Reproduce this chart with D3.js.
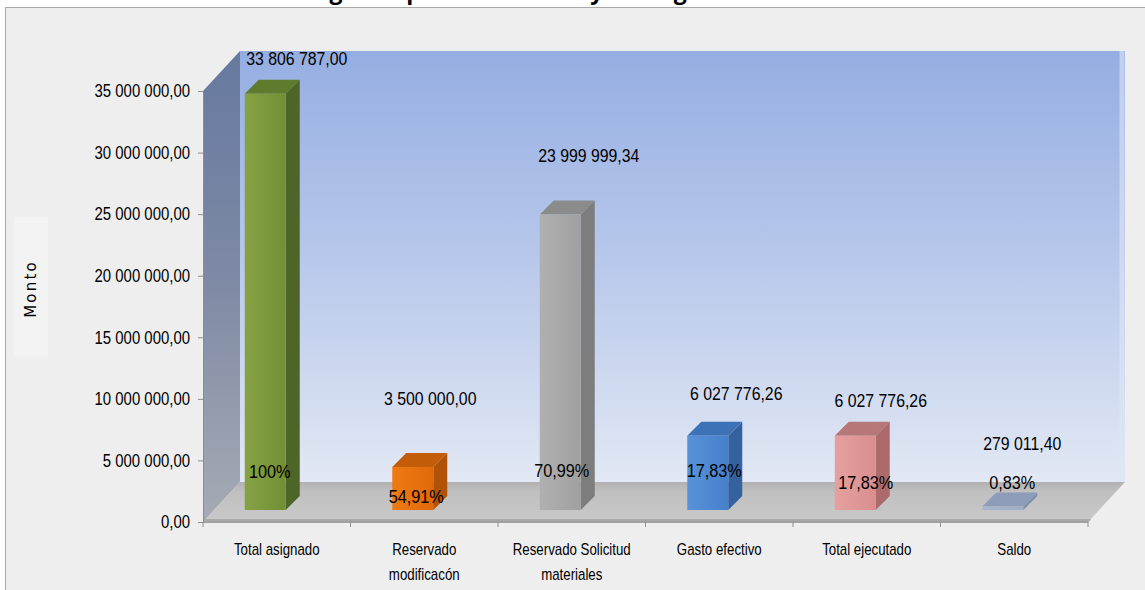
<!DOCTYPE html>
<html><head><meta charset="utf-8">
<script src="https://cdn.jsdelivr.net/npm/d3@7"></script>
<style>html,body{margin:0;padding:0;background:#fff;} svg{display:block}</style>
</head><body><svg id="c" width="1145" height="590"></svg>
<script>
// ---------- data ----------
const categories = ["Total asignado","Reservado modificacón","Reservado Solicitud materiales","Gasto efectivo","Total ejecutado","Saldo"];
const categoryLines = [["Total asignado"],["Reservado","modificacón"],["Reservado Solicitud","materiales"],["Gasto efectivo"],["Total ejecutado"],["Saldo"]];
const values = [33806787.00, 3500000.00, 23999999.34, 6027776.26, 6027776.26, 279011.40];
const percentLabels = ["100%","54,91%","70,99%","17,83%","17,83%","0,83%"];
const yTickValues = [0,5000000,10000000,15000000,20000000,25000000,30000000,35000000];
const yMax = 35000000;
const axisTitle = "Monto";
const chartTitle = "Monto asignado por Actividades y Total gastado";

// ---------- layout / style (not data) ----------
const W = 1145, H = 590;
const P = {x0:203, x1:1088, yBase:522, yTop:91, dX:37, dY:-40};
const barOff = {dx:-32, w:41, sx:14, sy:-14, lift:12};
const valLab = [{dx:20,y:65},{dx:6,y:405},{dx:17,y:162},{dx:17,y:400},{dx:14,y:407},{dx:8,y:450}];
const pctLab = [{dx:-7,y:478},{dx:-8,y:503},{dx:-10,y:477},{dx:-5,y:477},{dx:-1,y:489},{dx:-2,y:489}];
const barColors = [
  {front:["#86a244","#738f35"], side:"#4d6526", top:"#5e7b2e"},
  {front:["#ee7a14","#e06a08"], side:"#b05207", top:"#c25c08"},
  {front:["#b0b0b0","#a0a0a0"], side:"#7d7d7d", top:"#8b8b8b"},
  {front:["#5892d8","#4680cc"], side:"#34629f", top:"#3e72b6"},
  {front:["#e6a0a0","#d98e8e"], side:"#ad6a6a", top:"#b57777"},
  {front:["#a9b7cc","#a0aec4"], side:"#7f8ea8", top:"#8d9db8"}
];
const numFont = "'Liberation Sans',Arial,sans-serif";
const catFont = "'Liberation Sans',Arial,sans-serif";

const svg = d3.select("#c");
const defs = svg.append("defs");
function lg(id, stops, x1,y1,x2,y2){
  const g = defs.append("linearGradient").attr("id",id)
    .attr("x1",x1).attr("y1",y1).attr("x2",x2).attr("y2",y2);
  stops.forEach(s=>g.append("stop").attr("offset",s[0]).attr("stop-color",s[1]));
}
lg("gBack",[[0,"#95aee2"],[0.45,"#b5c6ea"],[1,"#e2e8f4"]],0,0,0,1);
lg("gLeft",[[0,"#66799f"],[0.5,"#7f8aa5"],[1,"#a6abb4"]],0,0,0,1);
lg("gFloor",[[0,"#b2b2b2"],[0.25,"#c0c0c0"],[1,"#c9c9c9"]],0,0,0,1);
barColors.forEach((c,i)=>lg("gBar"+i,[[0,c.front[0]],[1,c.front[1]]],0,0,1,0));

// condensed text helper
function ctext(parent, x0, y0, txt, size, sx, anchor, font){
  return parent.append("text").attr("transform",`translate(${x0},${y0}) scale(${sx},1)`)
    .attr("text-anchor",anchor||"middle").attr("font-family",font||numFont)
    .attr("font-size",size).attr("fill","#000").text(txt);
}

// ---------- frame ----------
svg.append("rect").attr("x",5.5).attr("y",7.5).attr("width",W).attr("height",H)
  .attr("fill","#eeeeee").attr("stroke","#a9a9a9").attr("stroke-width",1);

// title (cut off at the top edge, as in the reference)
svg.append("text").attr("x",216).attr("y",-1)
  .attr("font-family","'Open Sans',sans-serif").attr("font-weight",700)
  .attr("font-size",23).attr("fill","#000").text(chartTitle);

// ---------- scales ----------
const x = d3.scaleBand().domain(categories).range([P.x0,P.x1]);
const y = d3.scaleLinear().domain([0,yMax]).range([P.yBase,P.yTop]);
const fmt = d3.formatLocale({decimal:",", thousands:" ", grouping:[3], currency:["",""]}).format(",.2f");

// ---------- 3D walls ----------
const yb = y(0), yt = y(yMax);
svg.append("path").attr("fill","url(#gBack)")
  .attr("d",`M${P.x0+P.dX},${yt+P.dY}H${P.x1+P.dX}V${yb+P.dY}H${P.x0+P.dX}Z`);
svg.append("line").attr("x1",P.x1+P.dX-3).attr("x2",P.x1+P.dX-3)
  .attr("y1",yt+P.dY).attr("y2",yb+P.dY).attr("stroke","#dfe6f6").attr("stroke-width",5).attr("opacity",0.6);
svg.append("path").attr("fill","url(#gLeft)")
  .attr("d",`M${P.x0},${yt}L${P.x0+P.dX},${yt+P.dY}V${yb+P.dY}L${P.x0},${yb}Z`);
svg.append("path").attr("fill","url(#gFloor)")
  .attr("d",`M${P.x0},${yb}L${P.x0+P.dX},${yb+P.dY}H${P.x1+P.dX}L${P.x1},${yb}Z`);
svg.append("path").attr("fill","#a8a8a8")
  .attr("d",`M${P.x0},${yb-3}H${P.x1+3}L${P.x1},${yb+1}H${P.x0}Z`);

// ---------- bars ----------
const bars = svg.append("g");
values.forEach((v,i)=>{
  const c = barColors[i];
  const cx = x(categories[i]) + x.bandwidth()/2;
  const fx = cx + barOff.dx, fw = barOff.w;
  const fb = y(0) - barOff.lift, ft = y(v) - barOff.lift;
  const g = bars.append("g");
  g.append("path").attr("fill",c.side)
    .attr("d",`M${fx+fw},${ft}L${fx+fw+barOff.sx},${ft+barOff.sy}V${fb+barOff.sy}L${fx+fw},${fb}Z`);
  g.append("path").attr("fill",c.top)
    .attr("d",`M${fx},${ft}L${fx+barOff.sx},${ft+barOff.sy}H${fx+fw+barOff.sx}L${fx+fw},${ft}Z`);
  g.append("rect").attr("x",fx).attr("y",ft).attr("width",fw).attr("height",Math.max(fb-ft,0.5))
    .attr("fill",`url(#gBar${i})`);
});

// ---------- y axis ----------
const tickSx = 0.83;
const ya = svg.append("g").attr("transform",`translate(${P.x0},0)`)
  .call(d3.axisLeft(y).tickValues(yTickValues).tickFormat(fmt).tickSize(5).tickSizeOuter(0).tickPadding(8));
ya.select(".domain").attr("stroke","#8c8c8c");
ya.selectAll(".tick line").attr("stroke","#8c8c8c");
ya.selectAll(".tick text").attr("font-family",numFont).attr("font-size",18).attr("fill","#000")
  .attr("x",-13/tickSx).attr("transform",`scale(${tickSx},1)`);

// ---------- x axis ----------
const xa = svg.append("g");
xa.append("line").attr("x1",P.x0).attr("x2",P.x1).attr("y1",yb).attr("y2",yb).attr("stroke","#9a9a9a");
categories.forEach((c,i)=>{
  const bx = x(c);
  xa.append("line").attr("x1",bx+x.step()).attr("x2",bx+x.step()).attr("y1",yb).attr("y2",yb+5).attr("stroke","#8c8c8c");
  if(i===0) xa.append("line").attr("x1",bx).attr("x2",bx).attr("y1",yb).attr("y2",yb+5).attr("stroke","#8c8c8c");
  categoryLines[i].forEach((ln,k)=>ctext(xa, bx+x.bandwidth()/2, 555+k*25, ln, 16, 0.83, "middle", catFont));
});

// ---------- data labels ----------
values.forEach((v,i)=>{
  const cx = x(categories[i]) + x.bandwidth()/2;
  ctext(svg, cx+valLab[i].dx, valLab[i].y, fmt(v), 18, 0.88);
  ctext(svg, cx+pctLab[i].dx, pctLab[i].y, percentLabels[i], 18.5, 0.88);
});

// ---------- axis title ----------
svg.append("rect").attr("x",14).attr("y",217).attr("width",34).attr("height",140).attr("fill","#f3f3f3");
svg.append("text").attr("transform","translate(36,289) rotate(-90)").attr("text-anchor","middle")
  .attr("font-family","'DejaVu Sans',sans-serif").attr("font-size",15).attr("letter-spacing",2.2)
  .attr("fill","#000").text(axisTitle);
</script></body></html>
